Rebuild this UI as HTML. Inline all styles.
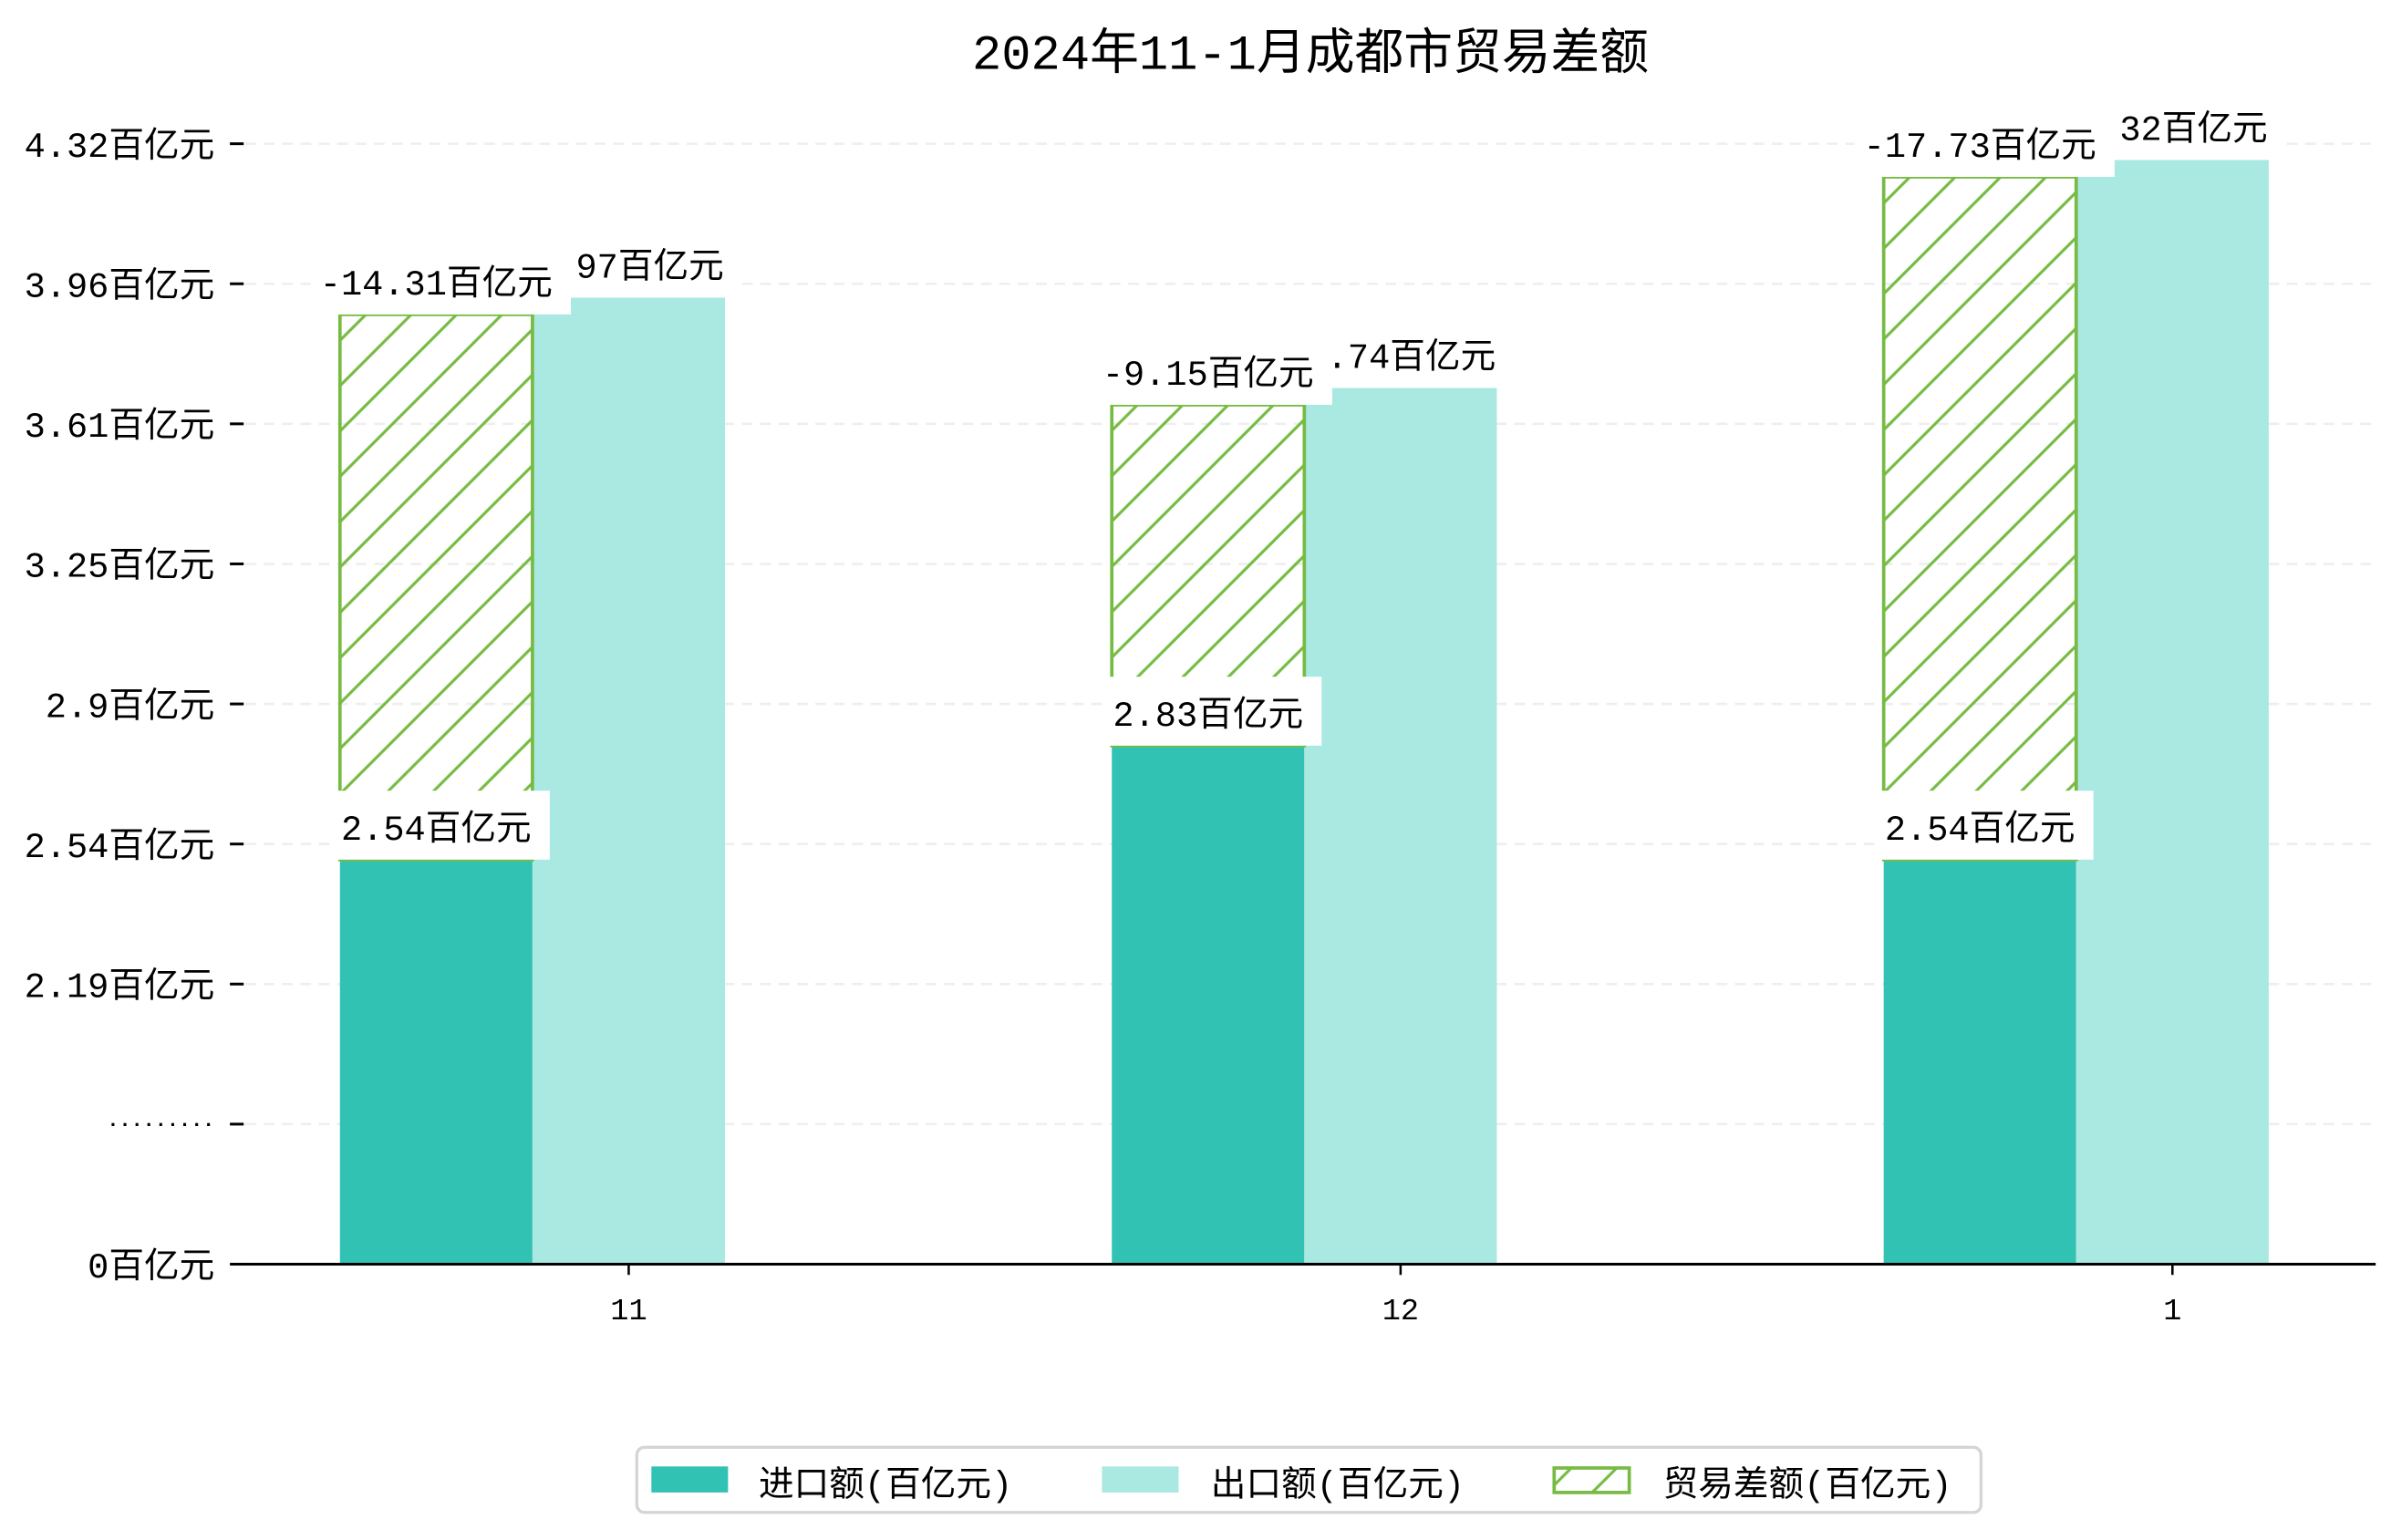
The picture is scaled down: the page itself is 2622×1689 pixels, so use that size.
<!DOCTYPE html>
<html><head><meta charset="utf-8"><style>
html,body{margin:0;padding:0;background:#fff;}
svg{display:block;font-family:"Liberation Mono","Noto Sans CJK SC",monospace;}
</style></head><body>
<svg id="chart" width="2622" height="1689" viewBox="0 0 1560 1005" preserveAspectRatio="none" xmlns="http://www.w3.org/2000/svg">
<defs>
<pattern id="hatch" patternUnits="userSpaceOnUse" width="29.6" height="29.6">
<path d="M-3,3 L3,-3 M0,29.6 L29.6,0 M26.6,32.6 L32.6,26.6" stroke="#77bb44" stroke-width="1.9"/>
</pattern>
</defs>
<text x="855" y="45" font-size="32" text-anchor="middle" fill="#000">2024年11-1月成都市贸易差额</text>
<g id="grid"></g><g id="bars"></g><g id="labels"></g><g id="axes"></g>
<g>
<rect x="415.5" y="944.5" width="877" height="42.5" rx="5" fill="#fff" stroke="#d5d5d5" stroke-width="2"/>
<rect x="425" y="957" width="50" height="17" fill="#32c2b4"/>
<text x="495" y="976" font-size="23">进口额(百亿元)</text>
<rect x="719" y="957" width="50" height="17" fill="#aae8e2"/>
<text x="790" y="976" font-size="23">出口额(百亿元)</text>
<rect x="1014" y="958" width="49" height="16" fill="url(#hatch)" stroke="#77bb44" stroke-width="2.2"/>
<text x="1085" y="976" font-size="23">贸易差额(百亿元)</text>
</g>
</svg>
<script>
const categories = ["11", "12", "1"];
const importVals = [2.54, 2.83, 2.54];
const exportVals = [3.97, 3.74, 4.32];
const balanceVals = [-14.31, -9.15, -17.73];
const yTickLabels = ["0百亿元", "·········", "2.19百亿元", "2.54百亿元", "2.9百亿元", "3.25百亿元", "3.61百亿元", "3.96百亿元", "4.32百亿元"];

const NS = "http://www.w3.org/2000/svg";
const baseY = 825, tickStep = 91.4;
const yScale = v => 561 - 256.5 * (v - 2.54);
const barW = 125.6, groupStep = 503.6, firstLeft = 221.8;
const xLeft = i => firstLeft + i * groupStep;
function mk(tag, attrs, parent) {
  const e = document.createElementNS(NS, tag);
  for (const k in attrs) e.setAttribute(k, attrs[k]);
  parent.appendChild(e);
  return e;
}
const grid = document.getElementById('grid'), bars = document.getElementById('bars'),
      labels = document.getElementById('labels'), axes = document.getElementById('axes');

yTickLabels.forEach((t, i) => {
  const y = baseY - i * tickStep;
  if (i > 0) {
    const g = mk('line', {x1: 160, x2: 1550, y1: y, y2: y, stroke: '#eeeeee', 'stroke-width': 1.5, 'stroke-dasharray': '7,5'}, grid);
    
    
  }
  const tk = mk('line', {x1: 150, x2: 159, y1: y, y2: y, stroke: '#000', 'stroke-width': 1.8}, axes);
  
  
  const isDots = t.indexOf('百') < 0;
  const tx = mk('text', {x: 140, y: y + (isDots ? 4 : 8.5), 'font-size': isDots ? 13 : 23, 'font-weight': isDots ? 'bold' : 'normal', 'text-anchor': 'end'}, axes);
  tx.textContent = t;
  
  
});
const ax = mk('line', {x1: 152, x2: 1550, y1: baseY, y2: baseY, stroke: '#000', 'stroke-width': 1.8}, axes);



function label(text, cx, bottom) {
  const tx = mk('text', {x: cx, y: bottom - 13, 'font-size': 23, 'text-anchor': 'middle'}, labels);
  tx.textContent = text;
  const bb = tx.getBBox();
  const r = document.createElementNS(NS, 'rect');
  r.setAttribute('x', bb.x - 6); r.setAttribute('y', bottom - 45);
  r.setAttribute('width', bb.width + 18); r.setAttribute('height', 45);
  r.setAttribute('fill', '#fff');
  
  
  labels.insertBefore(r, tx);
  
  
}

categories.forEach((c, i) => {
  const xl = xLeft(i);
  const yi = yScale(importVals[i]), ye = yScale(exportVals[i]), yb = ye + 11;
  const ri = mk('rect', {x: xl, y: yi, width: barW, height: baseY - yi, fill: '#32c2b4'}, bars);
  
  
  const re = mk('rect', {x: xl + barW, y: ye, width: barW, height: baseY - ye, fill: '#aae8e2'}, bars);
  
  
  const rb = mk('rect', {x: xl, y: yb, width: barW, height: yi - yb, fill: 'url(#hatch)', stroke: '#77bb44', 'stroke-width': 2.2}, bars);
  
  
  const cx = xl + barW * 1.5;
  const t = mk('line', {x1: cx, x2: cx, y1: baseY, y2: baseY + 7, stroke: '#000', 'stroke-width': 1.5}, axes);
  
  
  const tl = mk('text', {x: cx, y: 861, 'font-size': 20, 'text-anchor': 'middle'}, axes);
  tl.textContent = c;
  
  
});
categories.forEach((c, i) => {
  const xl = xLeft(i);
  label(exportVals[i].toFixed(2) + '百亿元', xl + barW * 1.5, yScale(exportVals[i]));
});
categories.forEach((c, i) => {
  const xl = xLeft(i);
  label(balanceVals[i].toFixed(2) + '百亿元', xl + barW / 2, yScale(exportVals[i]) + 11);
});
categories.forEach((c, i) => {
  const xl = xLeft(i);
  label(importVals[i].toFixed(2) + '百亿元', xl + barW / 2, yScale(importVals[i]));
});
</script>
</body></html>
